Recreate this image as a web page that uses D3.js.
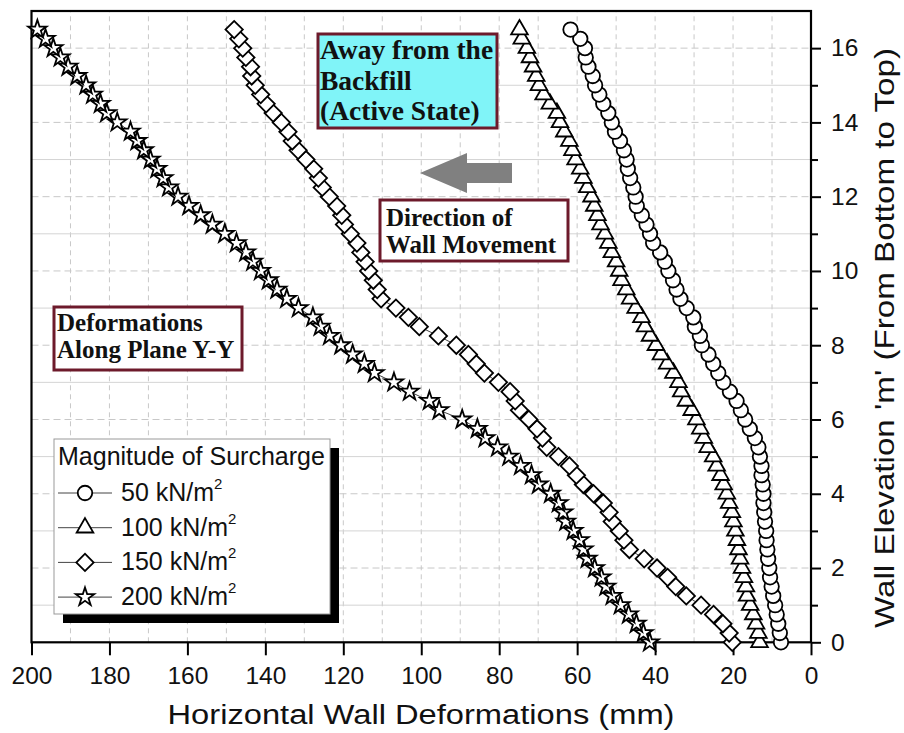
<!DOCTYPE html>
<html>
<head>
<meta charset="utf-8">
<script src="https://cdnjs.cloudflare.com/ajax/libs/d3/7.8.5/d3.min.js"></script>
<style>
    body { margin: 0; background: #fff; }
    svg { display: block; }
</style>
</head>
<body>
<div id="chart"></div>
<script>
// wall elevation (m), bottom to top
var elevation = [
    0, 0.25, 0.5, 0.75, 1, 1.25, 1.5, 1.75, 2, 2.25, 2.5, 2.75,
    3, 3.25, 3.5, 3.75, 4, 4.25, 4.5, 4.75, 5, 5.25, 5.5, 5.75,
    6, 6.25, 6.5, 6.75, 7, 7.25, 7.5, 7.75, 8, 8.25, 8.5, 8.75,
    9, 9.25, 9.5, 9.75, 10, 10.25, 10.5, 10.75, 11, 11.25, 11.5, 11.75,
    12, 12.25, 12.5, 12.75, 13, 13.25, 13.5, 13.75, 14, 14.25, 14.5, 14.75,
    15, 15.25, 15.5, 15.75, 16, 16.25, 16.5
];

// horizontal deformations (mm) for each surcharge
var def50 = [
    7.7, 8.0, 8.4, 8.8, 9.2, 9.7, 10.1, 10.5, 10.7, 11.0, 11.2, 11.4,
    11.5, 11.8, 12.0, 12.2, 12.2, 12.4, 12.7, 12.7, 13.1, 13.5, 14.4, 15.7,
    16.9, 18.0, 19.1, 20.8, 22.5, 23.8, 25.1, 26.3, 28.0, 28.5, 29.8, 30.2,
    31.9, 33.5, 34.5, 35.4, 36.6, 37.5, 38.7, 40.5, 41.3, 42.2, 43.4, 44.7,
    45.0, 45.6, 46.4, 47.0, 47.3, 48.0, 49.0, 50.3, 51.1, 52.0, 53.3, 54.3,
    55.4, 56.0, 57.1, 57.8, 58.0, 59.2, 61.7
];
var def100 = [
    13.2, 13.5, 14.1, 14.8, 15.6, 16.4, 16.7, 17.2, 17.7, 18.2, 18.6, 19.0,
    19.4, 19.9, 20.3, 21.0, 21.6, 22.4, 23.2, 24.2, 25.1, 26.5, 27.5, 28.4,
    29.4, 30.6, 32.1, 33.3, 34.0, 35.3, 36.9, 38.5, 39.8, 41.3, 42.6, 43.5,
    45.0, 46.4, 47.4, 48.6, 49.2, 50.0, 51.1, 52.0, 52.9, 54.0, 54.8, 55.6,
    56.3, 57.4, 58.4, 59.2, 60.4, 61.2, 62.0, 63.3, 64.4, 65.2, 67.0, 68.6,
    69.8, 70.5, 71.3, 72.1, 72.9, 74.2, 74.8
];
var def150 = [
    20.2, 21.0, 22.6, 25.0, 28.2, 32.0, 34.7, 36.8, 39.5, 42.8, 46.6, 48.0,
    49.2, 51.0, 51.8, 53.3, 55.8, 58.4, 60.2, 62.0, 64.8, 67.8, 68.9, 70.3,
    72.4, 74.8, 75.9, 77.2, 80.2, 83.8, 85.9, 87.9, 91.0, 95.6, 100.5, 103.3,
    106.5, 110.3, 111.3, 112.3, 113.5, 114.4, 115.5, 116.5, 118.2, 119.7, 120.4, 121.7,
    123.6, 125.4, 126.4, 127.6, 129.6, 131.6, 133.1, 134.2, 135.9, 138.0, 139.8, 141.2,
    142.6, 143.5, 143.8, 145.0, 145.8, 146.8, 148.0
];
var def200 = [
    41.4, 43.0, 44.8, 46.8, 48.9, 51.0, 52.6, 53.8, 55.5, 57.4, 58.4, 59.4,
    61.0, 62.9, 63.6, 64.8, 66.8, 69.9, 71.7, 74.5, 77.5, 80.4, 83.6, 85.6,
    89.5, 95.4, 97.9, 103.0, 107.0, 112.0, 114.6, 117.6, 120.6, 123.5, 125.9, 127.8,
    131.5, 134.5, 137.0, 139.2, 141.2, 143.2, 145.0, 147.4, 150.4, 153.6, 156.6, 159.6,
    162.4, 164.8, 166.2, 167.8, 169.5, 171.2, 172.9, 174.6, 178.0, 180.7, 182.3, 184.3,
    186.0, 188.3, 190.6, 192.6, 194.4, 196.4, 198.5
];

var surcharges = ["50", "100", "150", "200"];
var xTicks = [200, 180, 160, 140, 120, 100, 80, 60, 40, 20, 0];
var xGrid = [190, 180, 170, 160, 150, 140, 130, 120, 110, 100, 90, 80, 70, 60, 50, 40, 30, 20, 10];
var yTicks = [0, 2, 4, 6, 8, 10, 12, 14, 16];
var yMinorTicks = [1, 3, 5, 7, 9, 11, 13, 15];

var width = 904, height = 733;
var margin = {top: 11, right: 93, bottom: 90.7, left: 31.5};
var sans = "'Liberation Sans', Arial, sans-serif";
var serif = "'Liberation Serif', 'Times New Roman', serif";

var x = d3.scaleLinear()
    .domain([200, 0])
    .range([margin.left, width - margin.right]);

var y = d3.scaleLinear()
    .domain([0, 17])
    .range([height - margin.bottom, margin.top]);

var svg = d3.select("#chart")
    .append("svg")
    .attr("width", width)
    .attr("height", height);

// grid
var grid = svg.append("g").attr("class", "grid");
grid.selectAll(".vgrid")
    .data(xGrid)
    .enter().append("line")
    .attr("x1", function (d) { return x(d); })
    .attr("x2", function (d) { return x(d); })
    .attr("y1", y(0))
    .attr("y2", y(17))
    .attr("stroke", "#c8c8c8")
    .attr("stroke-dasharray", "5,4");

grid.selectAll(".hgrid")
    .data(d3.merge([yTicks.slice(1), yMinorTicks]))
    .enter().append("line")
    .attr("x1", x(200))
    .attr("x2", x(0))
    .attr("y1", function (d) { return y(d); })
    .attr("y2", function (d) { return y(d); })
    .attr("stroke", function (d) { return d % 2 === 0 ? "#c8c8c8" : "#d4d4d4"; })
    .attr("stroke-dasharray", function (d) { return d % 2 === 0 ? "7,4" : null; });

// axes
var xAxis = svg.append("g")
    .attr("transform", "translate(0," + y(0) + ")")
    .call(d3.axisBottom(x).tickValues(xTicks).tickSize(13).tickPadding(11).tickFormat(d3.format("d")));

var yAxis = svg.append("g")
    .attr("transform", "translate(" + x(0) + ",0)")
    .call(d3.axisRight(y).tickValues(yTicks).tickSize(10).tickPadding(10).tickFormat(d3.format("d")));

var yMinor = svg.append("g")
    .attr("transform", "translate(" + x(0) + ",0)")
    .call(d3.axisRight(y).tickValues(yMinorTicks).tickSize(7).tickFormat(""));

[xAxis, yAxis, yMinor].forEach(function (g) {
    g.select(".domain").remove();
    g.selectAll("line").attr("stroke", "#000").attr("stroke-width", 2);
    g.selectAll("text")
        .attr("font-family", sans)
        .attr("font-size", 24.5)
        .attr("fill", "#111");
});

// frame
svg.append("rect")
    .attr("x", x(200))
    .attr("y", y(17))
    .attr("width", x(0) - x(200))
    .attr("height", y(0) - y(17))
    .attr("fill", "none")
    .attr("stroke", "#000")
    .attr("stroke-width", 2.2);

// axis titles
svg.append("text")
    .attr("x", 421)
    .attr("y", 724)
    .attr("text-anchor", "middle")
    .attr("font-family", sans)
    .attr("font-size", 27)
    .attr("textLength", 507)
    .attr("lengthAdjust", "spacingAndGlyphs")
    .attr("fill", "#111")
    .text("Horizontal Wall Deformations (mm)");

svg.append("text")
    .attr("transform", "translate(894,338) rotate(-90)")
    .attr("text-anchor", "middle")
    .attr("font-family", sans)
    .attr("font-size", 28)
    .attr("textLength", 580)
    .attr("lengthAdjust", "spacingAndGlyphs")
    .attr("fill", "#111")
    .text("Wall Elevation 'm' (From Bottom to Top)");

// marker shapes
var symbols = {
    "50": d3.symbol().type(d3.symbolCircle).size(165),
    "100": d3.symbol().type(d3.symbolTriangle).size(120),
    "150": d3.symbol().type(d3.symbolSquare).size(150),
    "200": d3.symbol().type(d3.symbolStar).size(105)
};
var rotation = {"50": 0, "100": 0, "150": 45, "200": 0};

function drawMarker(g, key, cx, cy) {
    g.append("path")
        .attr("d", symbols[key]())
        .attr("transform", "translate(" + cx + "," + cy + ") rotate(" + rotation[key] + ")")
        .attr("fill", "#fff")
        .attr("stroke", "#000")
        .attr("stroke-width", 1.8);
}

var seriesValues = {"50": def50, "100": def100, "150": def150, "200": def200};

var line = d3.line()
    .x(function (d) { return x(d.v); })
    .y(function (d) { return y(d.h); });

surcharges.forEach(function (key) {
    var pts = elevation.map(function (h, i) {
        return {h: h, v: seriesValues[key][i]};
    });
    var g = svg.append("g").attr("class", "series s" + key);
    g.append("path")
        .datum(pts)
        .attr("d", line)
        .attr("fill", "none")
        .attr("stroke", "#444")
        .attr("stroke-width", 1);
    pts.forEach(function (p) {
        drawMarker(g, key, x(p.v), y(p.h));
    });
});

// annotation boxes
function noteBox(bx, by, bw, bh, fill, lines, tx, baselines, size) {
    var g = svg.append("g");
    g.append("rect")
        .attr("x", bx).attr("y", by)
        .attr("width", bw).attr("height", bh)
        .attr("fill", fill)
        .attr("stroke", "#6d1a2b")
        .attr("stroke-width", 3);
    lines.forEach(function (t, i) {
        g.append("text")
            .attr("x", tx)
            .attr("y", baselines[i])
            .attr("font-family", serif)
            .attr("font-weight", "bold")
            .attr("font-size", size)
            .attr("fill", "#111")
            .text(t);
    });
}

noteBox(318, 34, 179, 94, "#80f4f8", ["Away from the", "Backfill", "(Active State)"], 320, [59, 90, 120], 27.5);
noteBox(380, 200, 188, 61, "#fff", ["Direction of", "Wall Movement"], 386, [226, 253], 25);
noteBox(54, 307, 188, 63, "#fff", ["Deformations", "Along Plane Y-Y"], 57, [331, 358], 25);

// arrow pointing away from the backfill
svg.append("path")
    .attr("d", "M420,173 L467,153 L467,163 L512,163 L512,183 L467,183 L467,193 Z")
    .attr("fill", "#808080");

// legend
var legend = svg.append("g").attr("class", "legend");
legend.append("rect")
    .attr("x", 63).attr("y", 448)
    .attr("width", 276).attr("height", 175)
    .attr("fill", "#000");
legend.append("rect")
    .attr("x", 54).attr("y", 439)
    .attr("width", 276).attr("height", 175)
    .attr("fill", "#fff")
    .attr("stroke", "#999")
    .attr("stroke-width", 1);
legend.append("text")
    .attr("x", 58).attr("y", 465)
    .attr("font-family", sans)
    .attr("font-size", 25)
    .attr("fill", "#111")
    .text("Magnitude of Surcharge");

surcharges.forEach(function (key, i) {
    var cy = 493 + i * 34.7;
    legend.append("line")
        .attr("x1", 58).attr("x2", 112)
        .attr("y1", cy).attr("y2", cy)
        .attr("stroke", "#444")
        .attr("stroke-width", 1);
    drawMarker(legend, key, 85, cy);
    var t = legend.append("text")
        .attr("x", 121).attr("y", cy + 8)
        .attr("font-family", sans)
        .attr("font-size", 25)
        .attr("fill", "#111")
        .text(key + " kN/m");
    t.append("tspan")
        .attr("dy", -12)
        .attr("font-size", 15)
        .text("2");
});
</script>
</body>
</html>
